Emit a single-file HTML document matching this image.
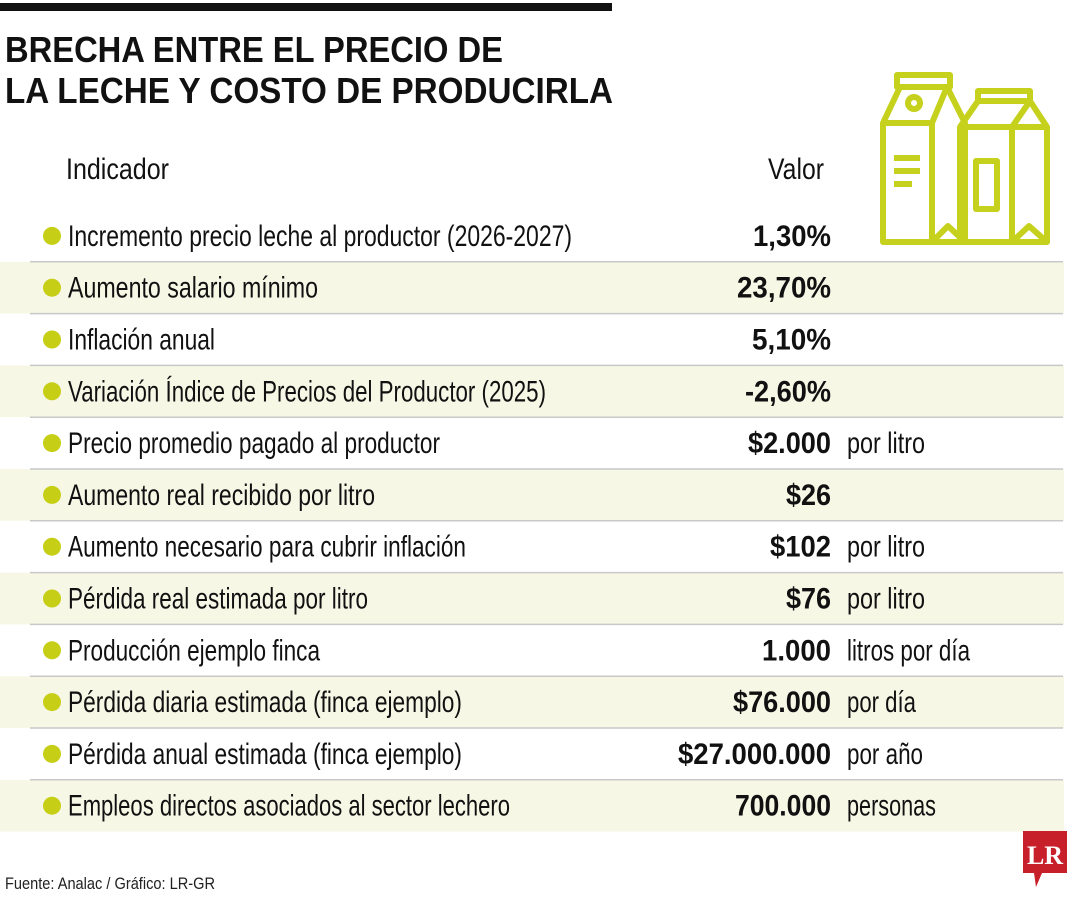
<!DOCTYPE html>
<html><head><meta charset="utf-8"><style>
html,body{margin:0;padding:0;background:#fff;width:1080px;height:900px;overflow:hidden}
svg{display:block}
text{font-family:"Liberation Sans Narrow","Liberation Sans",sans-serif}
</style></head><body>
<svg id="chart" width="1080" height="900" viewBox="0 0 1080 900">
<rect x="0" y="3" width="612" height="8" fill="#111"/>
<text x="5" y="62" font-size="36" font-weight="bold" textLength="498" lengthAdjust="spacingAndGlyphs" fill="#111">BRECHA ENTRE EL PRECIO DE</text>
<text x="5" y="103" font-size="36" font-weight="bold" textLength="608" lengthAdjust="spacingAndGlyphs" fill="#111">LA LECHE Y COSTO DE PRODUCIRLA</text>
<text x="66" y="179" font-size="30" textLength="103" lengthAdjust="spacingAndGlyphs" fill="#111">Indicador</text>
<text x="768" y="179" font-size="30" textLength="56" lengthAdjust="spacingAndGlyphs" fill="#111">Valor</text>
<g fill="none" stroke="#c6d11d" stroke-width="6" stroke-linejoin="round">
<rect x="897" y="75" width="53" height="12"/>
<polygon points="883,123 900,87 947,87 965,123 965,242 883,242"/>
<line x1="932" y1="123" x2="932" y2="242"/><line x1="883" y1="123" x2="932" y2="123"/><line x1="932" y1="123" x2="947" y2="87"/>
<polyline points="932,242 948,226 965,242"/>
<circle cx="914" cy="103" r="6"/>
<line x1="894" y1="158" x2="920" y2="158"/><line x1="894" y1="171" x2="920" y2="171"/><line x1="894" y1="184" x2="912" y2="184"/>
<rect x="978" y="91" width="52" height="10"/>
<polygon points="960,127 978,101 1030,101 1047,127 1047,242 960,242"/>
<line x1="1012" y1="127" x2="1012" y2="242"/><line x1="960" y1="127" x2="1047" y2="127"/><line x1="1012" y1="127" x2="1030" y2="101"/>
<polyline points="1012,242 1029,226 1047,242"/>
<rect x="976" y="161" width="21" height="48"/>
</g>
<g id="rows"></g>
<text x="5" y="889" font-size="17" textLength="210" lengthAdjust="spacingAndGlyphs" fill="#222">Fuente: Analac / Gráfico: LR-GR</text>
<g>
<path d="M1023 831 h44 v42 h-25 l-6 14 l-2 -14 h-11 z" fill="#c8202a"/>
<text x="1045" y="864" font-size="26" font-weight="bold" fill="#fff" text-anchor="middle" style="font-family:'Liberation Serif',serif">LR</text>
</g>
</svg>
<script>
const labels=["Incremento precio leche al productor (2026-2027)","Aumento salario mínimo","Inflación anual","Variación Índice de Precios del Productor (2025)","Precio promedio pagado al productor","Aumento real recibido por litro","Aumento necesario para cubrir inflación","Pérdida real estimada por litro","Producción ejemplo finca","Pérdida diaria estimada (finca ejemplo)","Pérdida anual estimada (finca ejemplo)","Empleos directos asociados al sector lechero"];
const values=["1,30%","23,70%","5,10%","-2,60%","$2.000","$26","$102","$76","1.000","$76.000","$27.000.000","700.000"];
const units=["","","","","por litro","","por litro","por litro","litros por día","por día","por año","personas"];
const labelW=[504,250,147,478,372,307,398,300,252,394,394,442];
const valueW=[78,94,79,86,83,45,61,45,69,98,153,96];
const unitW={"por litro":78,"litros por día":123,"por día":69,"por año":76,"personas":89};
const NS="http://www.w3.org/2000/svg";
const g=document.getElementById('rows');
const top0=210,pitch=51.8;
function mk(t,a){const e=document.createElementNS(NS,t);for(const k in a)e.setAttribute(k,a[k]);return e;}
labels.forEach((lab,i)=>{
  const y0=top0+i*pitch, cy=y0+pitch/2;
  if(i%2===1){const r=mk('rect',{x:0,y:y0,width:1064,height:pitch,fill:'#f7f7e6'});
    
    g.appendChild(r);}
  if(i>0){const l=mk('line',{x1:30,x2:1063,y1:y0,y2:y0,stroke:'#c8c8c8','stroke-width':1.5});
    
    g.appendChild(l);}
  const c=mk('circle',{cx:52,cy:cy,r:9,fill:'#c6cf16'});
  
  g.appendChild(c);
  const t=mk('text',{x:68,y:cy+10,'font-size':30,fill:'#111',textLength:labelW[i],lengthAdjust:'spacingAndGlyphs'});
  t.textContent=lab;
  
  g.appendChild(t);
  const v=mk('text',{x:831-valueW[i],y:cy+10,'font-size':30,'font-weight':'bold',fill:'#111',textLength:valueW[i],lengthAdjust:'spacingAndGlyphs'});
  v.textContent=values[i];
  
  g.appendChild(v);
  if(units[i]){const u=mk('text',{x:847,y:cy+10,'font-size':30,fill:'#111',textLength:unitW[units[i]],lengthAdjust:'spacingAndGlyphs'});
    u.textContent=units[i];
    
    g.appendChild(u);}
});
</script>
</body></html>
